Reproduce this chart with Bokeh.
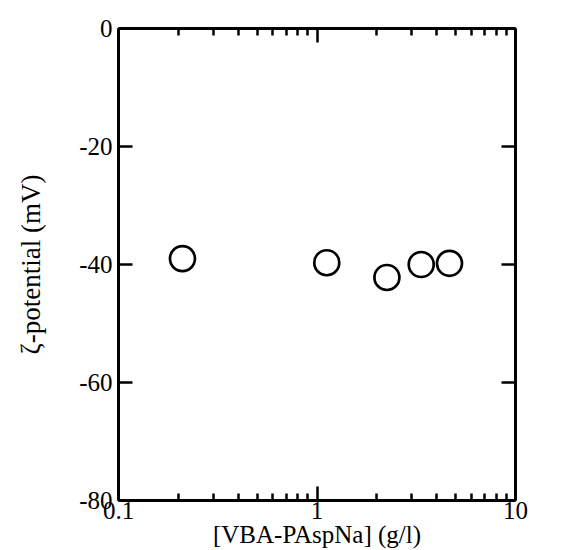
from bokeh.plotting import figure
from bokeh.models import LogAxis, LinearAxis, FixedTicker, Range1d, ColumnDataSource, CustomJSTickFormatter
from bokeh.embed import file_html
from bokeh.resources import INLINE

# data
conc = [0.21, 1.12, 2.25, 3.35, 4.65]          # [VBA-PAspNa] (g/l)
zeta = [-39.0, -39.7, -42.2, -40.0, -39.8]     # zeta-potential (mV)

x_major = [0.1, 1, 10]
x_minor = [0.2, 0.3, 0.4, 0.5, 0.6, 0.7, 0.8, 0.9, 2, 3, 4, 5, 6, 7, 8, 9]
y_major = [0, -20, -40, -60, -80]
x_title = "[VBA-PAspNa] (g/l)"
y_title = "ζ-potential (mV)"

FONT = "Liberation Serif"

p = figure(width=563, height=550, x_axis_type="log",
           x_range=Range1d(0.1, 10), y_range=Range1d(-80, 0),
           output_backend="svg", toolbar_location=None,
           min_border_left=118, min_border_right=48, min_border_top=28, min_border_bottom=0)
p.xgrid.visible = False
p.ygrid.visible = False
p.outline_line_color = None
p.background_fill_color = "white"
p.border_fill_color = "white"

src = ColumnDataSource(dict(x=conc, y=zeta))
p.scatter("x", "y", source=src, marker="circle", size=25,
          fill_color="white", line_color="black", line_width=2.7)

def style(ax):
    ax.axis_line_width = 3
    ax.axis_line_color = "black"
    ax.major_tick_in = 14
    ax.major_tick_out = 0
    ax.minor_tick_in = 7
    ax.minor_tick_out = 0
    ax.major_tick_line_width = 2.5
    ax.minor_tick_line_width = 2.5
    ax.major_label_text_font = FONT
    ax.major_label_text_font_size = "25px"
    ax.major_label_text_color = "black"
    ax.axis_label_text_font = FONT
    ax.axis_label_text_font_size = "25px"
    ax.axis_label_text_font_style = "normal"
    ax.axis_label_text_color = "black"

def blank(ax):
    ax.formatter = CustomJSTickFormatter(code="return ''")
    ax.major_label_standoff = 0
    ax.major_label_text_color = None

plain = "return tick.toString()"

xb = p.xaxis[0]
xb.ticker = FixedTicker(ticks=x_major, minor_ticks=x_minor)
xb.formatter = CustomJSTickFormatter(code=plain)
xb.axis_label = x_title
style(xb)
xb.major_label_standoff = 1
xb.axis_label_standoff = -1

yl = p.yaxis[0]
yl.ticker = FixedTicker(ticks=y_major, minor_ticks=[])
yl.formatter = CustomJSTickFormatter(code=plain)
yl.axis_label = y_title
style(yl)
yl.axis_label_text_font_size = "27px"
yl.major_label_standoff = 6
yl.axis_label_standoff = 30

xt = LogAxis(ticker=FixedTicker(ticks=x_major, minor_ticks=x_minor))
style(xt)
blank(xt)
p.add_layout(xt, "above")

yr = LinearAxis(ticker=FixedTicker(ticks=y_major, minor_ticks=[]))
style(yr)
blank(yr)
p.add_layout(yr, "right")

open("out.html", "w").write(file_html(p, INLINE))
